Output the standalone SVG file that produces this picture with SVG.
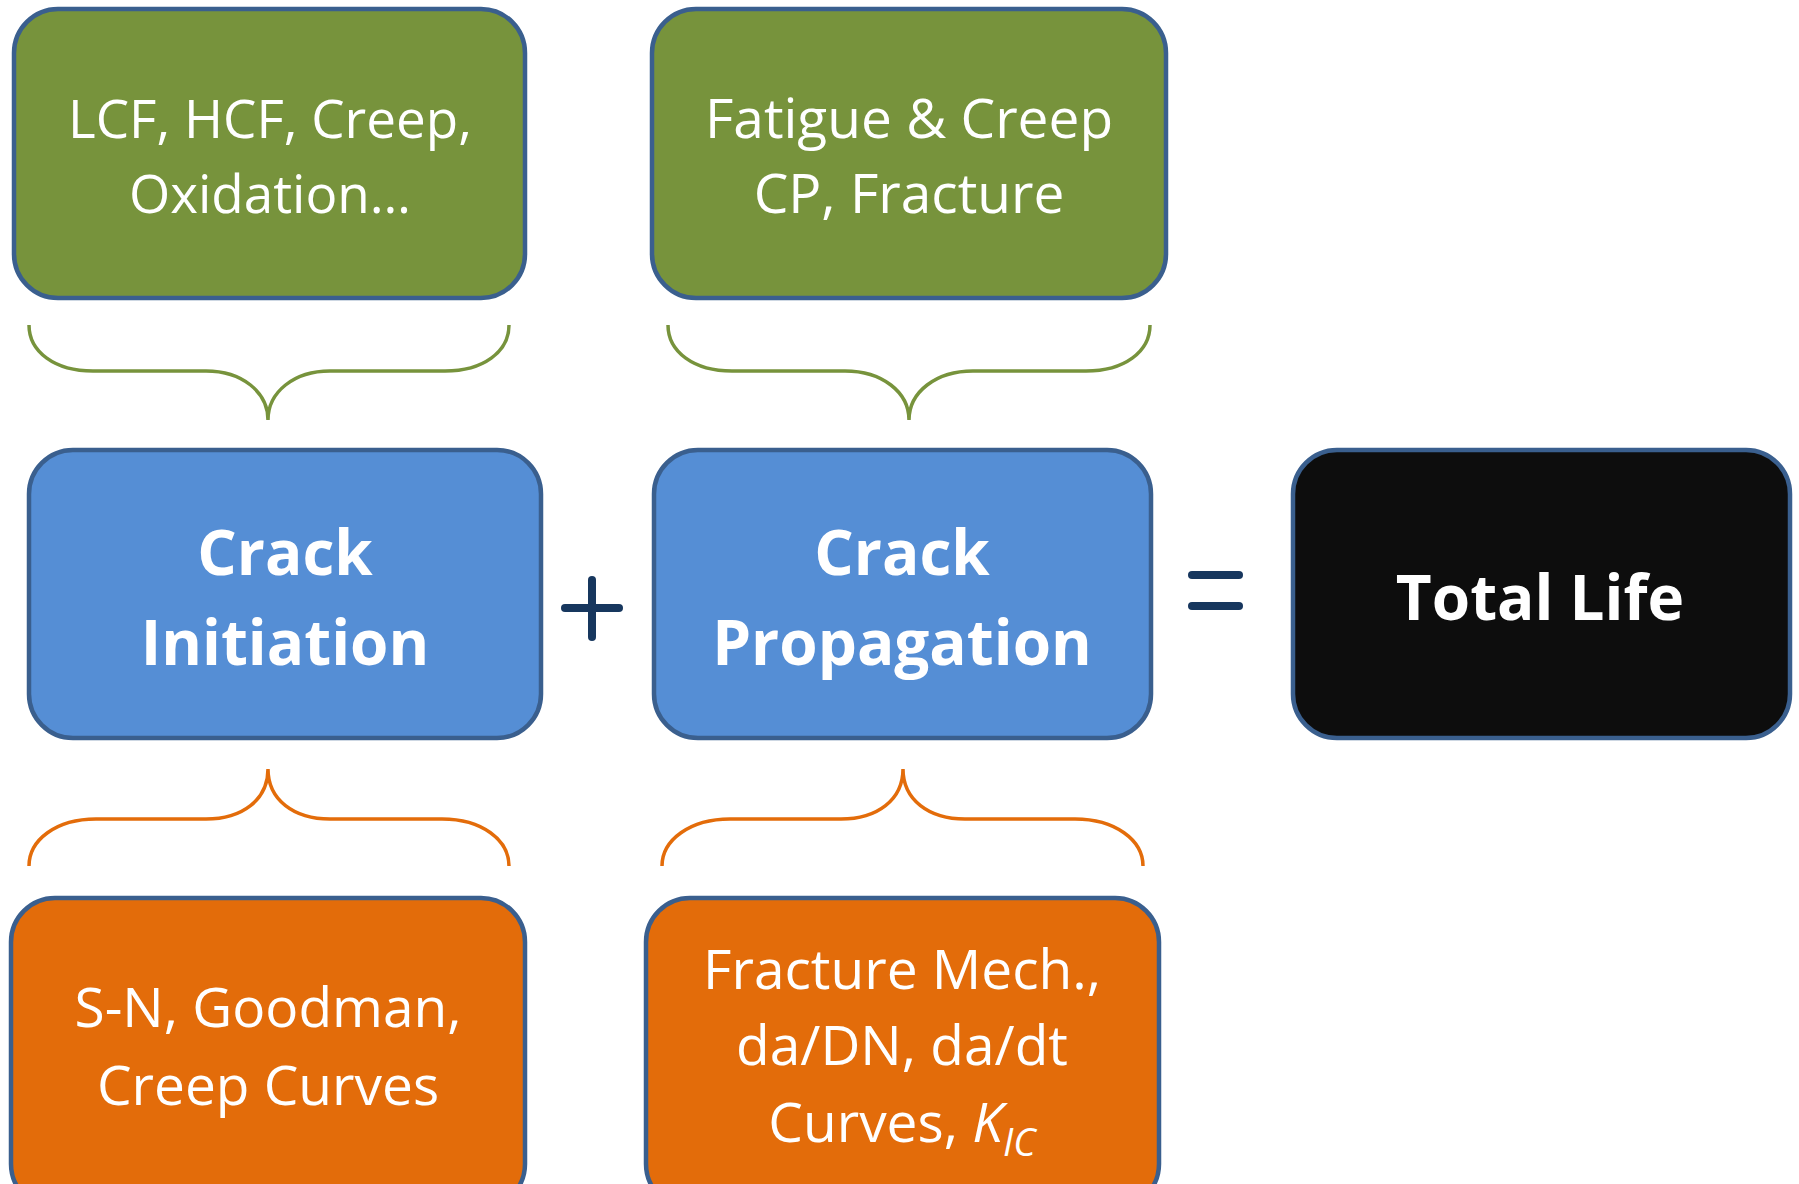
<svg xmlns="http://www.w3.org/2000/svg" width="1799" height="1184" viewBox="0 0 1799 1184">
<style>
.box{stroke:#3A5F8E;stroke-width:4.5}
.green{fill:#77933C}
.blue{fill:#558ED5}
.black{fill:#0D0D0D}
.orange{fill:#E36C0A}
.t{font-family:"Open Sans","Noto Sans",sans-serif;fill:#FFFFFF;text-anchor:middle}
.reg{font-size:53px}
.reg2{font-size:55px}
.bold{font-size:62px;font-weight:700}
.brace{fill:none;stroke-width:3.5}
.bg{stroke:#77933C}
.bo{stroke:#E36C0A}
.op{stroke:#17375E;stroke-width:8;stroke-linecap:round}
</style>
<rect width="1799" height="1184" fill="#FFFFFF"/>
<g id="connectors">
  <path class="brace bg" d="M29,325 C29,352 55,371 93,371 L206,371 C242,371 268,392 268,420 C268,392 294,371 330,371 L445,371 C483,371 509,352 509,325"/>
  <path class="brace bg" d="M668,325 C668,352 694,371 732,371 L845,371 C882,371 909,392 909,420 C909,392 936,371 973,371 L1086,371 C1124,371 1150,352 1150,325"/>
  <path class="brace bo" d="M29,866 C29,840 56,819 96,819 L206,819 C242,819 268,800 268,769 C268,800 294,819 330,819 L442,819 C482,819 509,840 509,866"/>
  <path class="brace bo" d="M662,866 C662,840 690,819 730,819 L841,819 C877,819 903,800 903,769 C903,800 929,819 965,819 L1075,819 C1115,819 1143,840 1143,866"/>
  <g id="plus">
    <line class="op" x1="565" y1="608" x2="619" y2="608"/>
    <line class="op" x1="592" y1="580" x2="592" y2="637"/>
  </g>
  <g id="equals">
    <line class="op" x1="1192" y1="575" x2="1239" y2="575"/>
    <line class="op" x1="1192" y1="606" x2="1239" y2="606"/>
  </g>
</g>
<g id="node-green1">
  <rect class="box green" x="14" y="9" width="511" height="289" rx="44"/>
  <text class="t reg" x="270" y="138">LCF, HCF, Creep,</text>
  <text class="t reg" x="270" y="213">Oxidation…</text>
</g>
<g id="node-green2">
  <rect class="box green" x="652" y="9" width="514" height="289" rx="44"/>
  <text class="t reg2" x="909" y="138">Fatigue &amp; Creep</text>
  <text class="t reg2" x="909" y="213">CP, Fracture</text>
</g>
<g id="node-initiation">
  <rect class="box blue" x="29" y="450" width="512" height="288" rx="44"/>
  <text class="t bold" x="285" y="575">Crack</text>
  <text class="t bold" x="285" y="665">Initiation</text>
</g>
<g id="node-propagation">
  <rect class="box blue" x="654" y="450" width="497" height="288" rx="44"/>
  <text class="t bold" x="902" y="575">Crack</text>
  <text class="t bold" x="902" y="665">Propagation</text>
</g>
<g id="node-total">
  <rect class="box black" x="1293" y="450" width="497" height="288" rx="44"/>
  <text class="t bold" x="1540" y="620">Total Life</text>
</g>
<g id="node-orange1">
  <rect class="box orange" x="11" y="898" width="514" height="310" rx="44"/>
  <text class="t reg2" x="268" y="1027">S-N, Goodman,</text>
  <text class="t reg2" x="268" y="1105">Creep Curves</text>
</g>
<g id="node-orange2">
  <rect class="box orange" x="646" y="898" width="513" height="310" rx="44"/>
  <text class="t reg2" x="902" y="989">Fracture Mech.,</text>
  <text class="t reg2" x="902" y="1065">da/DN, da/dt</text>
  <text class="t reg2" x="902" y="1142">Curves, <tspan font-style="italic">K</tspan><tspan font-style="italic" font-size="38" dy="14">IC</tspan></text>
</g>
</svg>
